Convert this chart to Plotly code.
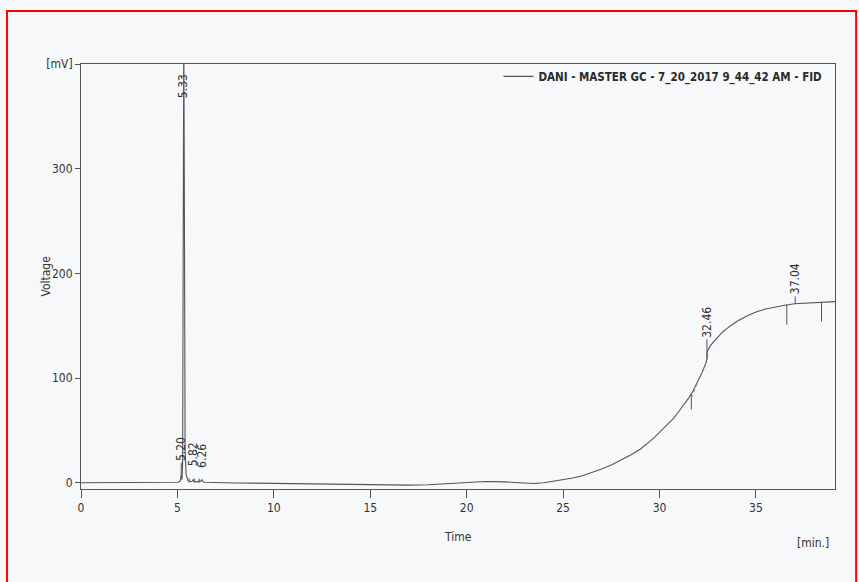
import plotly.graph_objects as go

# FID chromatogram: retention time [min] vs detector signal [mV]
time_min = [0, 1, 2, 3, 4, 4.8, 5.0, 5.1, 5.15, 5.2, 5.24, 5.27, 5.29, 5.31, 5.33,
            5.35, 5.37, 5.40, 5.45, 5.55, 5.7, 5.78, 5.82, 5.86, 5.95, 6.15, 6.22,
            6.26, 6.30, 6.4, 7, 8, 9, 10, 11, 12, 13, 14, 15, 16, 17, 18, 19, 20,
            20.5, 21, 21.5, 22, 22.5, 23, 23.5, 24, 24.5, 25, 25.5, 26, 26.5, 27,
            27.5, 28, 28.5, 29, 29.25, 29.5, 29.75, 30, 30.25, 30.5, 30.75, 31,
            31.25, 31.5, 31.75, 32, 32.2, 32.4, 32.46, 32.47, 32.6, 32.8, 33, 33.25,
            33.5, 33.75, 34, 34.5, 35, 35.5, 36, 36.5, 37, 37.5, 38, 38.5, 39, 39.1]
signal_mv = [0, 0, 0, 0, 0, 0, 0.5, 1, 2, 8, 3, 20, 150, 380, 430,
             330, 120, 30, 8, 2, 1, 1.5, 3, 1.5, 0.8, 0.8, 1.5,
             3, 1.5, 0.5, 0, -0.2, -0.4, -0.7, -1, -1.3, -1.6, -1.9, -2.2, -2.4, -2.3, -2, -1.2, 0,
             0.7, 1.2, 1.3, 0.8, 0.2, -0.4, -0.8, 0, 1.4, 2.8, 4.5, 6.7, 9.5, 13,
             17, 21.5, 26.5, 32, 35.5, 39.5, 43.5, 48, 52.5, 57, 62, 68,
             74, 80.5, 88, 97, 105, 114, 118, 125, 130, 134.5, 139, 143.5,
             147.5, 151, 154, 159, 163, 166, 168, 169.5, 171, 171.5, 172, 172.5, 173, 173]

# Peak retention-time labels: time, label-anchor level [mV], anchor side
peak_times = [5.20, 5.33, 5.82, 6.26, 32.46, 37.04]
peak_label_y = [19, 392, 14, 12, 137, 178]
peak_label_anchor = ["bottom", "top", "bottom", "bottom", "bottom", "bottom"]

# Integration event markers: time, start level, end level [mV]
mark_t = [5.20, 5.61, 5.87, 6.13, 31.65, 32.46, 36.6, 37.04, 38.4]
mark_y0 = [8, 4, 4, 4, 85, 118, 170, 171, 172.5]
mark_y1 = [19, 0, 0, 0, 70, 137, 151, 178, 154]

# Dotted baseline drawn under the 32.46 peak
base_t = [31.65, 32.5]
base_v = [81, 119]

x_ticks = [0, 5, 10, 15, 20, 25, 30, 35]
y_ticks = [0, 100, 200, 300, 400]
y_tick_text = ["0", "100", "200", "300", "[mV]"]

line_col = "#555555"
text_col = "#333333"
font_fam = "Liberation Sans Narrow, DejaVu Sans Condensed, Liberation Sans, sans-serif"

fig = go.Figure()

fig.add_trace(go.Scatter(
    x=time_min, y=signal_mv, mode="lines",
    line=dict(color=line_col, width=1.1),
    name="DANI - MASTER GC - 7_20_2017 9_44_42 AM - FID",
    showlegend=True,
))

for t, a, b in zip(mark_t, mark_y0, mark_y1):
    fig.add_trace(go.Scatter(x=[t, t], y=[a, b], mode="lines",
                             line=dict(color=line_col, width=1),
                             showlegend=False, hoverinfo="skip"))

fig.add_trace(go.Scatter(x=base_t, y=base_v, mode="lines",
                         line=dict(color="#888888", width=1, dash="dot"),
                         showlegend=False, hoverinfo="skip"))

for t, yv, anc in zip(peak_times, peak_label_y, peak_label_anchor):
    fig.add_annotation(x=t, y=yv, text=f"{t:.2f}", showarrow=False,
                       textangle=-90, xanchor="center", yanchor=anc,
                       font=dict(size=12, color=text_col, family=font_fam))

# axis titles and unit label
fig.add_annotation(xref="paper", yref="paper", x=0.5, y=-0.113,
                   text="Time", showarrow=False, xanchor="center", yanchor="middle",
                   font=dict(size=12, color=text_col, family=font_fam))
fig.add_annotation(xref="paper", yref="paper", x=-0.0477, y=0.5,
                   text="Voltage", showarrow=False, textangle=-90,
                   xanchor="center", yanchor="middle",
                   font=dict(size=12, color=text_col, family=font_fam))
fig.add_annotation(xref="paper", yref="paper", x=0.995, y=-0.105,
                   text="[min.]", showarrow=False, xanchor="right", yanchor="top",
                   font=dict(size=12, color=text_col, family=font_fam))

# red outer frame around the whole chart
fig.add_shape(type="rect", xref="paper", yref="paper",
              x0=-0.0981, x1=1.028, y0=-0.24, y1=1.1247,
              line=dict(color="#ff0000", width=2), layer="above")

fig.update_layout(
    width=859, height=582,
    margin=dict(l=81, r=24, t=64, b=93),
    paper_bgcolor="#f7f8fa",
    plot_bgcolor="#f7f8fa",
    font=dict(family=font_fam, size=12, color=text_col),
    legend=dict(x=0.99, y=1.005, xanchor="right", yanchor="top",
                bgcolor="rgba(0,0,0,0)",
                font=dict(size=11.5, color="#2a2a2a", family=font_fam, weight="bold")),
)

fig.update_xaxes(
    range=[0, 39.1], tickvals=x_ticks, ticks="outside", ticklen=8,
    tickcolor=line_col, showline=True, mirror=True, linecolor=line_col,
    linewidth=1, showgrid=False, zeroline=False,
)
fig.update_yaxes(
    range=[-6, 400], tickvals=y_ticks, ticktext=y_tick_text, ticks="outside",
    ticklen=5, tickcolor=line_col, showline=True, mirror=True, linecolor=line_col,
    linewidth=1, showgrid=False, zeroline=False,
)

fig.write_html("out.html")
